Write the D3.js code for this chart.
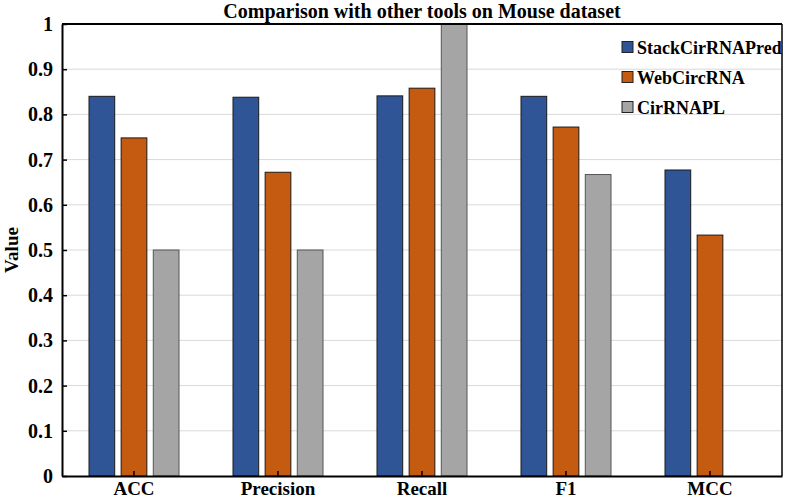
<!DOCTYPE html>
<html>
<head>
<meta charset="utf-8">
<script src="https://cdn.jsdelivr.net/npm/d3@7"></script>
<style>
  body { margin: 0; background: #fff; }
  text { font-family: "Liberation Serif", "Times New Roman", serif; font-weight: bold; }
</style>
</head>
<body>
<div id="chart"></div>
<script>
// data
var metrics = ['ACC', 'Precision', 'Recall', 'F1', 'MCC'];
var tools = ['StackCirRNAPred', 'WebCircRNA', 'CirRNAPL'];
var stackValues = [0.840, 0.838, 0.841, 0.840, 0.677];
var webValues = [0.748, 0.672, 0.858, 0.772, 0.533];
var cirValues = [0.500, 0.500, 1.000, 0.667, 0];
var yTicks = [0, 0.1, 0.2, 0.3, 0.4, 0.5, 0.6, 0.7, 0.8, 0.9, 1];

var colors = ['#2F5597', '#C55A11', '#A5A5A5'];
var strokes = ['#1a1a1a', '#1a1a1a', '#555555'];

var svgWidth = 786;
var svgHeight = 501;
var margin = { top: 24, right: 4, bottom: 25, left: 62 };
var width = svgWidth - margin.left - margin.right;
var height = svgHeight - margin.top - margin.bottom;

var svg = d3.select('#chart')
  .append('svg')
  .attr('width', svgWidth)
  .attr('height', svgHeight);

var chartGroup = svg.append('g')
  .attr('transform', `translate(${margin.left}, ${margin.top})`);

var x0 = d3.scaleBand().domain(metrics).range([0, width]);
var x1 = d3.scaleBand().domain(tools).range([-45, 45]).paddingInner(0.2);
var y = d3.scaleLinear().domain([0, 1]).range([height, 0]);

// gridlines
chartGroup.append('g')
  .selectAll('line')
  .data(yTicks.slice(1, -1))
  .enter()
  .append('line')
  .attr('x1', 0)
  .attr('x2', width)
  .attr('y1', d => y(d))
  .attr('y2', d => y(d))
  .attr('stroke', '#d9d9d9')
  .attr('stroke-width', 1);

// bars
var series = [stackValues, webValues, cirValues];
tools.forEach(function (tool, ti) {
  chartGroup.append('g')
    .selectAll('rect')
    .data(metrics.map((m, i) => ({ m: m, v: series[ti][i] })).filter(d => d.v > 0))
    .enter()
    .append('rect')
    .attr('x', d => x0(d.m) + x0.bandwidth() / 2 + x1(tool))
    .attr('width', x1.bandwidth())
    .attr('y', d => y(d.v))
    .attr('height', d => height - y(d.v))
    .attr('fill', colors[ti])
    .attr('stroke', strokes[ti])
    .attr('stroke-width', 1);
});

// axes
var leftAxis = d3.axisLeft(y)
  .tickValues(yTicks)
  .tickFormat(d => d === 0 || d === 1 ? d3.format('d')(d) : d3.format('.1f')(d))
  .tickSizeInner(-5)
  .tickSizeOuter(0)
  .tickPadding(9);
var yAxis = chartGroup.append('g').call(leftAxis);
yAxis.select('.domain').attr('stroke-width', 2);
yAxis.selectAll('.tick line').attr('stroke-width', 1.5);
yAxis.selectAll('.tick text').attr('font-size', 20).attr('fill', '#000');

var bottomAxis = d3.axisBottom(x0)
  .tickSizeInner(-5)
  .tickSizeOuter(0)
  .tickPadding(6);
var xAxis = chartGroup.append('g')
  .attr('transform', `translate(0, ${height})`)
  .call(bottomAxis);
xAxis.select('.domain').attr('stroke-width', 2);
xAxis.selectAll('.tick line').attr('stroke-width', 1.5);
xAxis.selectAll('.tick text').attr('font-size', 19).attr('fill', '#000');

// box top and right
chartGroup.append('line')
  .attr('x1', 0).attr('x2', width).attr('y1', 0).attr('y2', 0)
  .attr('stroke', '#000').attr('stroke-width', 2);
chartGroup.append('line')
  .attr('x1', width).attr('x2', width).attr('y1', 0).attr('y2', height)
  .attr('stroke', '#000').attr('stroke-width', 1.5);

// title
svg.append('text')
  .attr('x', margin.left + width / 2)
  .attr('y', 18)
  .attr('text-anchor', 'middle')
  .attr('font-size', 20)
  .text('Comparison with other tools on Mouse dataset');

// y label
svg.append('text')
  .attr('transform', 'rotate(-90)')
  .attr('x', -(margin.top + height / 2))
  .attr('y', 18)
  .attr('text-anchor', 'middle')
  .attr('font-size', 19)
  .text('Value');

// legend
var legend = svg.append('g')
  .attr('transform', 'translate(622, 47)');
tools.forEach(function (tool, i) {
  var row = legend.append('g').attr('transform', `translate(0, ${i * 30})`);
  row.append('rect')
    .attr('x', 0).attr('y', -5.5)
    .attr('width', 11).attr('height', 11)
    .attr('fill', colors[i])
    .attr('stroke', '#222')
    .attr('stroke-width', 1);
  row.append('text')
    .attr('x', 15)
    .attr('y', 6.5)
    .attr('font-size', 18)
    .text(tool);
});
</script>
</body>
</html>
